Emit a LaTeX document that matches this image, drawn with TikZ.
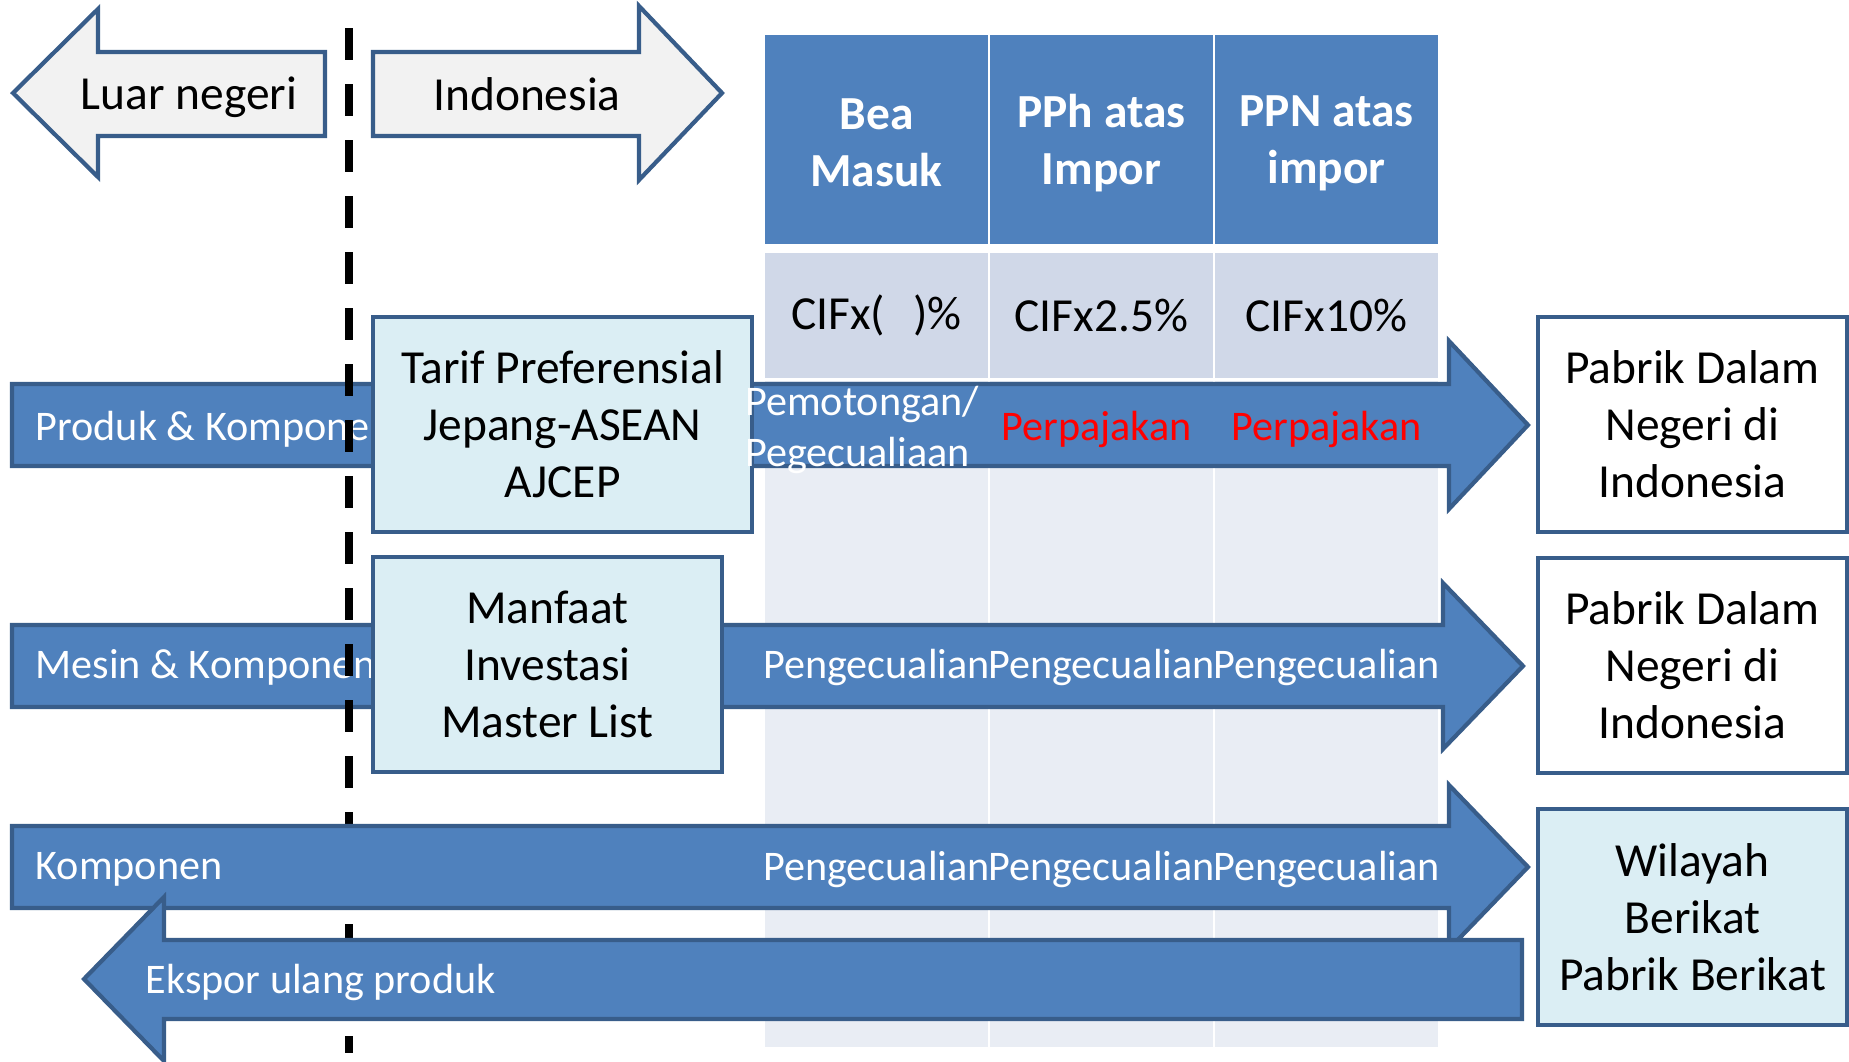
\documentclass[tikz,border=0pt]{standalone}
\usepackage{fontspec}
\setmainfont{Carlito}
\usetikzlibrary{positioning, calc}
\definecolor{headblue}{HTML}{4F81BD}
\definecolor{edgeblue}{HTML}{385D8A}
\definecolor{boxcyan}{HTML}{DBEEF4}
\definecolor{rowgray}{HTML}{D0D8E8}
\definecolor{bodygray}{HTML}{E9EDF4}
\definecolor{arrowgray}{HTML}{F2F2F2}

\begin{document}
\begin{tikzpicture}
    % Define styles
    \tikzset{
        label style/.style={font=\fontsize{13.5}{16.2}\selectfont},
        arrow text/.style={anchor=west, inner sep=0pt, text=white, font=\fontsize{12}{14.5}\selectfont},
        tax text/.style={inner sep=0pt, font=\fontsize{12}{14.5}\selectfont},
        flow arrow/.style={fill=headblue, draw=edgeblue, line width=1.2pt},
        side arrow/.style={fill=arrowgray, draw=edgeblue, line width=1.2pt},
        head cell/.style={rectangle, fill=headblue, minimum width=2.23cm, minimum height=2.09cm, inner sep=0pt},
        head text/.style={inner sep=0pt, align=center, text=white, font=\fontsize{13.5}{16.2}\selectfont\bfseries},
        rate cell/.style={rectangle, fill=rowgray, minimum width=2.23cm, minimum height=1.25cm, inner sep=0pt, label style},
        body cell/.style={rectangle, fill=bodygray, minimum width=2.23cm, minimum height=6.66cm, inner sep=0pt},
        info box/.style={rectangle, draw=edgeblue, line width=1.2pt, fill=boxcyan, minimum height=2.15cm, inner sep=0pt, align=center, font=\fontsize{13.5}{16.2}\selectfont},
        factory box/.style={info box, fill=white, minimum width=3.09cm},
        border line/.style={line width=2pt, dash pattern=on 0.32cm off 0.24cm}
    }

    \useasboundingbox (0,0) rectangle (18.49,-10.61);

    % Tax table: header, rate and body cell per column
    \foreach \i/\x/\head/\rate in {1/8.765/{Bea\\Masuk}/{CIFx(\hspace{0.6em})\%},
                                   2/11.015/{PPh atas\\Impor}/{CIFx2.5\%},
                                   3/13.265/{PPN atas\\impor}/{CIFx10\%}} {
        \node[head cell] (h\i) at (\x,-1.395) {};
        \node[head text] (t\i) at ($(h\i)+(0,-0.035)$) {\head};
        \node[rate cell] (r\i) at (\x,-3.155) {\rate};
        \node[body cell] (b\i) at (\x,-7.14) {};
    }

    % Luar negeri / Indonesia
    \draw[side arrow] (3.25,-0.52) -- (0.98,-0.52) -- (0.98,-0.09) -- (0.13,-0.93) -- (0.98,-1.77) -- (0.98,-1.36) -- (3.25,-1.36) -- cycle;
    \node[label style] (luar) at (1.89,-0.97) {Luar negeri};
    \draw[side arrow] (3.73,-0.52) -- (6.39,-0.52) -- (6.39,-0.06) -- (7.22,-0.93) -- (6.39,-1.80) -- (6.39,-1.36) -- (3.73,-1.36) -- cycle;
    \node[label style] (indo) at (5.27,-0.94) {Indonesia};

    % Flow arrows into the factories
    \draw[flow arrow] (0.12,-3.84) -- (14.49,-3.84) -- (14.49,-3.41) -- (15.28,-4.25) -- (14.49,-5.09) -- (14.49,-4.66) -- (0.12,-4.66) -- cycle;
    \node[arrow text] (produk) at (0.35,-4.29) {Produk \& Komponen};
    \draw[flow arrow] (0.12,-6.25) -- (14.43,-6.25) -- (14.43,-5.83) -- (15.23,-6.66) -- (14.43,-7.49) -- (14.43,-7.07) -- (0.12,-7.07) -- cycle;
    \node[arrow text] (mesin) at (0.35,-6.67) {Mesin \& Komponen};

    % Border between abroad and Indonesia
    \coordinate (border top) at (3.49,-0.28);
    \coordinate (border bottom) at (3.49,-10.53);
    \draw[border line] (border top) -- (border bottom);

    % Bonded zone arrows
    \draw[flow arrow] (0.12,-8.26) -- (14.49,-8.26) -- (14.49,-7.85) -- (15.28,-8.67) -- (14.49,-9.49) -- (14.49,-9.08) -- (0.12,-9.08) -- cycle;
    \node[arrow text] (komponen) at (0.35,-8.695) {Komponen};
    \draw[flow arrow] (15.22,-9.40) -- (1.64,-9.40) -- (1.64,-8.97) -- (0.84,-9.79) -- (1.64,-10.61) -- (1.64,-10.19) -- (15.22,-10.19) -- cycle;
    \node[arrow text] (ekspor) at (1.45,-9.825) {Ekspor ulang produk};

    % Facilities
    \node[info box, minimum width=3.79cm] (tarif) at (5.625,-4.245) {Tarif Preferensial\\Jepang-ASEAN\\AJCEP};
    \node[info box, minimum width=3.49cm] (manfaat) at (5.475,-6.645) {Manfaat\\Investasi\\Master List};

    % Treatment per tax column
    \node[arrow text, anchor=center, align=left] (potong) at (8.62,-4.30) {Pemotongan/\\Pegecualiaan};
    \node[tax text, text=red] (pajak2) at ($(h2 |- produk)+(-0.05,0)$) {Perpajakan};
    \node[tax text, text=red] (pajak3) at (h3 |- produk) {Perpajakan};
    \foreach \i in {1,2,3} {
        \node[tax text, text=white] (mesin\i) at (h\i |- mesin) {Pengecualian};
        \node[tax text, text=white] (komp\i) at (h\i |- komponen) {Pengecualian};
    }

    % Destinations
    \node[factory box] (pabrik1) at (16.925,-4.245) {Pabrik Dalam\\Negeri di\\Indonesia};
    \node[factory box] (pabrik2) at (16.925,-6.655) {Pabrik Dalam\\Negeri di\\Indonesia};
    \node[factory box, fill=boxcyan, minimum height=2.16cm] (wilayah) at (16.925,-9.17) {Wilayah\\Berikat\\Pabrik Berikat};

\end{tikzpicture}
\end{document}
